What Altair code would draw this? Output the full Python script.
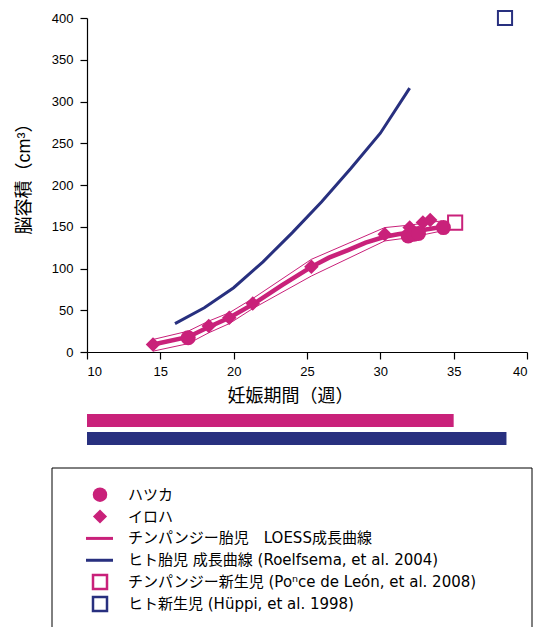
import altair as alt
import pandas as pd

MAGENTA = "#C9217A"
NAVY = "#28307F"
FONT = "Liberation Sans, Noto Sans CJK JP, sans-serif"
LEGEND_FONT = "DejaVu Sans, Noto Sans CJK JP, sans-serif"

# Human fetal brain growth curve (Roelfsema et al. 2004)
human_weeks = [16, 18, 20, 22, 24, 26, 28, 30, 32]
human_volume = [34, 53, 77, 108, 143, 180, 220, 262, 316]

# Chimpanzee fetal LOESS growth curve
loess_weeks = [14.5, 16.9, 18.3, 19.7, 21.3, 23.3, 25.3, 26.5, 27.8, 29.0, 30.3, 31.2, 32.0, 32.6, 33.2, 34.3]
loess_volume = [9, 18, 30, 41, 57, 80, 102, 113, 122, 131, 138, 141, 143, 145, 147, 150]

# Confidence band around the LOESS curve
band_weeks = [14.5, 16.9, 18.3, 19.7, 21.3, 25.3, 30.3, 32.0, 34.2]
band_upper = [15, 25, 37, 47, 64, 111, 149, 152, 157]
band_lower = [1, 10, 23, 34, 52, 91, 133, 137, 145]

# Individual fetuses
iroha_weeks = [14.5, 18.3, 19.7, 21.3, 25.3, 30.3, 32.0, 32.9, 33.4]
iroha_volume = [9, 31, 41, 58, 102, 141, 149, 155, 158]
hatsuka_weeks = [16.9, 31.9, 32.3, 32.6, 34.3]
hatsuka_volume = [17, 139, 141, 142, 149]

# Newborns
chimp_newborn_weeks = [35.1]
chimp_newborn_volume = [155]
human_newborn_weeks = [38.5]
human_newborn_volume = [400]

# Gestation length bars
gestation_species = ["チンパンジー", "ヒト"]
gestation_weeks = [35.0, 38.6]

legend_labels = [
    "ハツカ",
    "イロハ",
    "チンパンジー胎児　LOESS成長曲線",
    "ヒト胎児 成長曲線 (Roelfsema, et al. 2004)",
    "チンパンジー新生児 (Poⁿce de León, et al. 2008)",
    "ヒト新生児 (Hüppi, et al. 1998)",
]

W, H = 440, 334
X_MIN, X_MAX = 10, 40
x_scale = alt.Scale(domain=[X_MIN, X_MAX], nice=False, zero=False)
y_scale = alt.Scale(domain=[0, 400], nice=False)

x_enc = alt.X(
    "week:Q",
    scale=x_scale,
    axis=alt.Axis(
        values=[10, 15, 20, 25, 30, 35, 40],
        title="妊娠期間（週）",
        titleX=203,
        titleAlign="center",
        titlePadding=9,
        titleFontSize=18,
        labelPadding=6,
    ),
)
y_enc = alt.Y(
    "volume:Q",
    scale=y_scale,
    axis=alt.Axis(
        values=[0, 50, 100, 150, 200, 250, 300, 350, 400],
        title="脳容積（cm³）",
        titleY=156,
        titleAlign="center",
        titlePadding=18,
        titleFontSize=18,
        labelPadding=7,
    ),
)

human_df = pd.DataFrame({"week": human_weeks, "volume": human_volume})
loess_df = pd.DataFrame({"week": loess_weeks, "volume": loess_volume})
band_df = pd.concat([
    pd.DataFrame({"week": band_weeks, "volume": band_upper, "bound": "upper"}),
    pd.DataFrame({"week": band_weeks, "volume": band_lower, "bound": "lower"}),
])
iroha_df = pd.DataFrame({"week": iroha_weeks, "volume": iroha_volume})
hatsuka_df = pd.DataFrame({"week": hatsuka_weeks, "volume": hatsuka_volume})
chimp_nb_df = pd.DataFrame({"week": chimp_newborn_weeks, "volume": chimp_newborn_volume})
human_nb_df = pd.DataFrame({"week": human_newborn_weeks, "volume": human_newborn_volume})

band = alt.Chart(band_df).mark_line(color=MAGENTA, strokeWidth=1).encode(
    x=x_enc, y=y_enc, detail="bound:N"
)
loess = alt.Chart(loess_df).mark_line(color=MAGENTA, strokeWidth=4.5).encode(x=x_enc, y=y_enc)
human = alt.Chart(human_df).mark_line(color=NAVY, strokeWidth=3).encode(x=x_enc, y=y_enc)
iroha = alt.Chart(iroha_df).mark_point(
    shape="diamond", filled=True, color=MAGENTA, size=210, opacity=1
).encode(x=x_enc, y=y_enc)
hatsuka = alt.Chart(hatsuka_df).mark_point(
    shape="circle", filled=True, color=MAGENTA, size=225, opacity=1
).encode(x=x_enc, y=y_enc)
chimp_nb = alt.Chart(chimp_nb_df).mark_point(
    shape="square", filled=False, color=MAGENTA, size=200, strokeWidth=2, opacity=1
).encode(x=x_enc, y=y_enc)
human_nb = alt.Chart(human_nb_df).mark_point(
    shape="square", filled=False, color=NAVY, size=200, strokeWidth=2, opacity=1
).encode(x=x_enc, y=y_enc)

main = alt.layer(band, loess, human, iroha, hatsuka, chimp_nb, human_nb).properties(
    width=W, height=H
)

# Gestation length bars on the same week scale; the band range leaves
# room above for the x axis and a gap below before the legend box.
BH = 116
gest_df = pd.DataFrame({"species": gestation_species, "weeks": gestation_weeks})
bars = alt.Chart(gest_df).mark_bar().encode(
    x=alt.X("weeks:Q", scale=x_scale, axis=None),
    x2=alt.datum(X_MIN),
    y=alt.Y(
        "species:N",
        sort=gestation_species,
        axis=None,
        scale=alt.Scale(range=[62, 93], paddingInner=0.278, paddingOuter=0),
    ),
    color=alt.Color(
        "species:N",
        scale=alt.Scale(domain=gestation_species, range=[MAGENTA, NAVY]),
        legend=None,
    ),
).properties(width=W, height=BH)

# Legend panel
LH = 159
leg_df = pd.DataFrame({"row": list(range(len(legend_labels))), "label": legend_labels})
ly = alt.Y("row:Q", scale=alt.Scale(domain=[-1.221, 6.053], reverse=True), axis=None)
base = alt.Chart(leg_df)

leg_text = base.mark_text(
    align="left", baseline="middle", fontSize=15, font=LEGEND_FONT, color="black"
).encode(x=alt.value(41), y=ly, text="label:N")
leg_circle = base.transform_filter(alt.datum.row == 0).mark_point(
    shape="circle", filled=True, color=MAGENTA, size=210, opacity=1
).encode(x=alt.value(13), y=ly)
leg_diamond = base.transform_filter(alt.datum.row == 1).mark_point(
    shape="diamond", filled=True, color=MAGENTA, size=200, opacity=1
).encode(x=alt.value(13), y=ly)
leg_line_chimp = base.transform_filter(alt.datum.row == 2).mark_rule(
    color=MAGENTA, strokeWidth=3
).encode(x=alt.value(-1), x2=alt.value(26), y=ly)
leg_line_human = base.transform_filter(alt.datum.row == 3).mark_rule(
    color=NAVY, strokeWidth=3
).encode(x=alt.value(-1), x2=alt.value(26), y=ly)
leg_sq_chimp = base.transform_filter(alt.datum.row == 4).mark_point(
    shape="square", filled=False, color=MAGENTA, size=196, strokeWidth=2.5, opacity=1
).encode(x=alt.value(13), y=ly)
leg_sq_human = base.transform_filter(alt.datum.row == 5).mark_point(
    shape="square", filled=False, color=NAVY, size=196, strokeWidth=2.5, opacity=1
).encode(x=alt.value(13), y=ly)

frame = alt.Chart(alt.Data(values=[{}]))
box_top = frame.mark_rule(color="black", strokeWidth=1).encode(
    x=alt.value(-35), x2=alt.value(445), y=alt.value(0)
)
box_left = frame.mark_rule(color="black", strokeWidth=1).encode(
    x=alt.value(-35), y=alt.value(0), y2=alt.value(LH)
)
box_right = frame.mark_rule(color="black", strokeWidth=1).encode(
    x=alt.value(445), y=alt.value(0), y2=alt.value(LH)
)

legend = alt.layer(
    box_top, box_left, box_right,
    leg_circle, leg_diamond, leg_line_chimp, leg_line_human, leg_sq_chimp, leg_sq_human,
    leg_text,
).properties(width=W, height=LH)

chart = alt.vconcat(main, bars, legend, spacing=0, bounds="flush").resolve_scale(
    x="independent", y="independent"
).properties(
    padding={"left": 15, "top": 6, "right": 4, "bottom": 0}
).configure_view(stroke=None).configure_axis(
    grid=False,
    domainColor="black",
    domainWidth=1.2,
    tickColor="black",
    tickWidth=1.2,
    tickSize=7,
    labelColor="black",
    titleColor="black",
    labelFont=FONT,
    titleFont=FONT,
    labelFontSize=13,
    titleFontWeight="normal",
).configure_text(font=FONT)

chart.save("out.html", embed_options={"renderer": "svg", "actions": False})
